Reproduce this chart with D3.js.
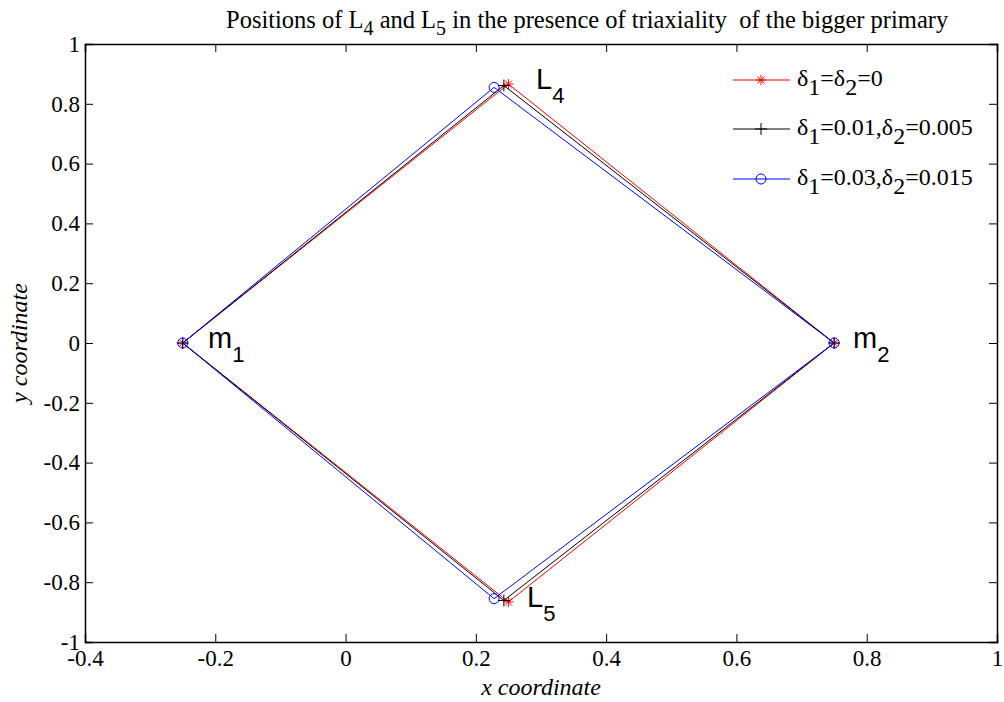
<!DOCTYPE html>
<html>
<head>
<meta charset="utf-8">
<script src="https://cdn.jsdelivr.net/npm/d3@7"></script>
<style>
  html, body { margin: 0; padding: 0; background: #fff; }
  svg { display: block; }
</style>
</head>
<body>
<svg id="chart" width="1004" height="702"></svg>
<script>
// Equilibrium points for three triaxiality cases: m1, L4, m2, L5 (closed path)
const seriesNames = ["δ1=δ2=0", "δ1=0.01,δ2=0.005", "δ1=0.03,δ2=0.015"];
const seriesX = [
  [-0.25, 0.250, 0.75, 0.250, -0.25],
  [-0.25, 0.243, 0.75, 0.243, -0.25],
  [-0.25, 0.228, 0.75, 0.228, -0.25]
];
const seriesY = [
  [0, 0.866, 0, -0.866, 0],
  [0, 0.861, 0, -0.861, 0],
  [0, 0.855, 0, -0.855, 0]
];
const seriesColors = ["#ff0000", "#000000", "#0000ff"];
const seriesMarkers = ["star", "plus", "circle"];
const xTicks = [-0.4, -0.2, 0, 0.2, 0.4, 0.6, 0.8, 1];
const yTicks = [-1, -0.8, -0.6, -0.4, -0.2, 0, 0.2, 0.4, 0.6, 0.8, 1];

const svg = d3.select("#chart");
const plotL = 85, plotR = 997, plotT = 44, plotB = 642;
const x = d3.scaleLinear().domain([-0.4, 1]).range([plotL, plotR]);
const y = d3.scaleLinear().domain([-1, 1]).range([plotB, plotT]);

const serif = "Times New Roman, Liberation Serif, serif";
const sans = "Arial, Liberation Sans, sans-serif";

// plain hyphen for negatives
function tickFmt(d) { return String(+d.toFixed(1)); }

// axes with inward ticks on all four sides
const tickLen = 8;
const gx = svg.append("g").attr("transform", `translate(0,${plotB})`)
  .call(d3.axisBottom(x).tickValues(xTicks).tickSize(-tickLen).tickPadding(8).tickFormat(tickFmt));
const gxt = svg.append("g").attr("transform", `translate(0,${plotT})`)
  .call(d3.axisTop(x).tickValues(xTicks).tickSize(-tickLen).tickFormat(""));
const gy = svg.append("g").attr("transform", `translate(${plotL},0)`)
  .call(d3.axisLeft(y).tickValues(yTicks).tickSize(-tickLen).tickPadding(5).tickFormat(tickFmt));
const gyr = svg.append("g").attr("transform", `translate(${plotR},0)`)
  .call(d3.axisRight(y).tickValues(yTicks).tickSize(-tickLen).tickFormat(""));

[gx, gxt, gy, gyr].forEach(g => {
  g.attr("font-family", serif).attr("font-size", 23);
  g.select(".domain").attr("stroke", "#000").attr("stroke-width", 1.5);
  g.selectAll(".tick line").attr("stroke", "#000").attr("stroke-width", 1);
  g.selectAll(".tick text").attr("fill", "#000");
});

// series lines and markers
function drawMarker(g, type, cx, cy, color) {
  if (type === "star") {
    const s = 5;
    g.append("path")
      .attr("d", `M${cx - s},${cy}L${cx + s},${cy}M${cx},${cy - s}L${cx},${cy + s}` +
                 `M${cx - s * 0.7},${cy - s * 0.7}L${cx + s * 0.7},${cy + s * 0.7}` +
                 `M${cx - s * 0.7},${cy + s * 0.7}L${cx + s * 0.7},${cy - s * 0.7}`)
      .attr("stroke", color).attr("stroke-width", 1).attr("fill", "none");
  } else if (type === "plus") {
    const s = 6;
    g.append("path")
      .attr("d", `M${cx - s},${cy}L${cx + s},${cy}M${cx},${cy - s}L${cx},${cy + s}`)
      .attr("stroke", color).attr("stroke-width", 1).attr("fill", "none");
  } else {
    g.append("circle").attr("cx", cx).attr("cy", cy).attr("r", 5)
      .attr("stroke", color).attr("stroke-width", 1).attr("fill", "none");
  }
}

const line = d3.line().x(d => x(d[0])).y(d => y(d[1]));
seriesNames.forEach((name, i) => {
  const pts = seriesX[i].map((v, j) => [v, seriesY[i][j]]);
  const g = svg.append("g");
  g.append("path").attr("d", line(pts))
    .attr("fill", "none").attr("stroke", seriesColors[i]).attr("stroke-width", 1);
  pts.slice(0, 4).forEach(p => drawMarker(g, seriesMarkers[i], x(p[0]), y(p[1]), seriesColors[i]));
});

// point labels
function subLabel(px, py, main, sub) {
  const t = svg.append("text").attr("x", px).attr("y", py)
    .attr("font-family", sans).attr("font-size", 29).attr("fill", "#000");
  t.append("tspan").text(main);
  t.append("tspan").attr("dy", 14).attr("font-size", 22).text(sub);
}
subLabel(536, 89, "L", "4");
subLabel(527, 607, "L", "5");
subLabel(208, 348, "m", "1");
subLabel(853, 348, "m", "2");

// legend
const legX = 733, legRows = [80, 129, 179];
function deltaText(g, px, py, str) {
  const t = g.append("text").attr("x", px).attr("y", py + 6)
    .attr("font-family", serif).attr("font-size", 24).attr("fill", "#000");
  // split on δ followed by digit to subscript the index
  const parts = str.split(/(δ\d)/).filter(s => s.length);
  let lowered = false;
  parts.forEach(p => {
    if (/^δ\d$/.test(p)) {
      t.append("tspan").attr("dy", lowered ? -9 : 0).text("δ");
      t.append("tspan").attr("dy", 9).text(p[1]);
      lowered = true;
    } else {
      t.append("tspan").attr("dy", lowered ? -9 : 0).text(p);
      lowered = false;
    }
  });
}
seriesNames.forEach((name, i) => {
  const g = svg.append("g");
  const ly = legRows[i];
  g.append("line").attr("x1", legX).attr("x2", legX + 57).attr("y1", ly).attr("y2", ly)
    .attr("stroke", seriesColors[i]).attr("stroke-width", 1);
  drawMarker(g, seriesMarkers[i], legX + 28, ly, seriesColors[i]);
  deltaText(g, legX + 64, ly, name);
});

// title
const title = svg.append("text").attr("x", 226).attr("y", 28)
  .attr("font-family", serif).attr("font-size", 24.5).attr("fill", "#000");
title.append("tspan").text("Positions of L");
title.append("tspan").attr("dy", 7).attr("font-size", 20).text("4");
title.append("tspan").attr("dy", -7).text(" and L");
title.append("tspan").attr("dy", 7).attr("font-size", 20).text("5");
title.append("tspan").attr("dy", -7).text(" in the presence of triaxiality\u00a0 of the bigger primary");

// axis labels
svg.append("text").attr("x", 541).attr("y", 695).attr("text-anchor", "middle")
  .attr("font-family", serif).attr("font-style", "italic").attr("font-size", 24)
  .text("x coordinate");
svg.append("text").attr("transform", "translate(27,343) rotate(-90)").attr("text-anchor", "middle")
  .attr("font-family", serif).attr("font-style", "italic").attr("font-size", 24)
  .text("y coordinate");
</script>
</body>
</html>
